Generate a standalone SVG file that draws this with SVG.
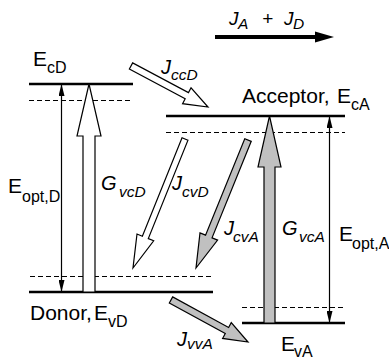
<svg xmlns="http://www.w3.org/2000/svg" width="389" height="364" viewBox="0 0 389 364">
<style>
text{font-family:"Liberation Sans",Arial,sans-serif;fill:#000}
.lab{font-size:21px}
.sub{font-size:16px}
.it{font-style:italic;font-size:20px}
.its{font-style:italic;font-size:15.5px}
.lvl{stroke:#000;stroke-width:2.6;fill:none}
.dash{stroke:#000;stroke-width:1;stroke-dasharray:5,3;fill:none}
.thin{stroke:#000;stroke-width:1.2;fill:none}
.open{fill:#fff;stroke:#000;stroke-width:1.2;stroke-linejoin:miter}
.gray{fill:#c0c0c0;stroke:#000;stroke-width:1.2;stroke-linejoin:miter}
</style>
<defs>
<marker id="ah" viewBox="0 0 12 6" refX="12" refY="3" markerWidth="12" markerHeight="6" markerUnits="userSpaceOnUse" orient="auto-start-reverse">
<path d="M0,0 L12,3 L0,6 Z" fill="#000"/>
</marker>
</defs>
<rect width="389" height="364" fill="#fff"/>

<g id="donor">
<line class="lvl" x1="29" y1="84" x2="133" y2="84"/>
<line class="dash" x1="29" y1="100.5" x2="133" y2="100.5"/>
<line class="dash" x1="30" y1="276.5" x2="213" y2="276.5"/>
<line class="lvl" x1="29" y1="292" x2="213" y2="292"/>
<text class="lab" x="33" y="66">E<tspan class="sub" x="47" dy="7">cD</tspan></text>
<text class="lab" x="30" y="320">Donor,<tspan x="94">E</tspan><tspan class="sub" x="108" dy="7">vD</tspan></text>
<text class="lab" x="8" y="193">E<tspan class="sub" x="22" dy="9">opt,D</tspan></text>
</g>

<g id="acceptor">
<line class="lvl" x1="166" y1="116" x2="345" y2="116"/>
<line class="dash" x1="166" y1="132.5" x2="345" y2="132.5"/>
<line class="dash" x1="242" y1="307.5" x2="345" y2="307.5"/>
<line class="lvl" x1="242" y1="323" x2="345" y2="323"/>
<text class="lab" x="242" y="103">Acceptor,<tspan x="337">E</tspan><tspan class="sub" x="351" dy="7">cA</tspan></text>
<text class="lab" x="281" y="351">E<tspan class="sub" x="294" dy="6">vA</tspan></text>
<text class="lab" x="339" y="241">E<tspan class="sub" x="352" dy="8">opt,A</tspan></text>
</g>

<g id="connectors">
<line class="thin" x1="61.5" y1="84" x2="61.5" y2="292" marker-start="url(#ah)" marker-end="url(#ah)"/>
<line class="thin" x1="329.5" y1="116" x2="329.5" y2="323" marker-start="url(#ah)" marker-end="url(#ah)"/>
<polygon id="GvcD" class="open" points="83,292 83,136 77,136 89,84 101,136 95,136 95,292"/>
<polygon id="GvcA" class="gray" points="264,323 264,167 258,167 269.5,116 281,167 275,167 275,323"/>
<polygon id="JccD" class="open" points="129.36,69.09 132.65,62.91 188.46,92.63 191.04,87.77 208,107 182.58,103.67 185.17,98.81"/>
<polygon id="JcvD" class="open" points="187.97,140.2 182.03,137.8 142.37,236.21 137,234.04 133,268 153.68,240.78 148.31,238.61"/>
<polygon id="JcvA" class="gray" points="251.24,141.32 244.76,138.68 205.56,235.18 200,232.92 196,268 217.6,240.08 212.04,237.82"/>
<polygon id="JvvA" class="gray" points="169.32,303.07 172.68,296.93 228.61,327.44 231.24,322.61 248,342 222.62,338.41 225.25,333.58"/>
<line x1="215" y1="37" x2="318" y2="37" stroke="#000" stroke-width="4"/>
<polygon points="315,31.5 334,37 315,42.5" fill="#000"/>
</g>

<g id="labels">
<text class="it" x="101" y="190">G<tspan class="its" x="119" dy="7">vcD</tspan></text>
<text class="it" x="172" y="190">J<tspan class="its" x="182" dy="7">cvD</tspan></text>
<text class="it" x="224" y="235">J<tspan class="its" x="233" dy="7">cvA</tspan></text>
<text class="it" x="282" y="235">G<tspan class="its" x="299" dy="7">vcA</tspan></text>
<text class="it" x="161" y="74">J<tspan class="its" x="171" dy="6">ccD</tspan></text>
<text class="it" x="177" y="346">J<tspan class="its" x="187" dy="3">vvA</tspan></text>
<text class="it" x="229" y="25" style="font-size:19px">J<tspan class="its" x="238" dy="4">A</tspan><tspan x="262" dy="-4" style="font-size:19px">+</tspan><tspan x="284" style="font-size:19px">J</tspan><tspan class="its" x="293" dy="4">D</tspan></text>
</g>
</svg>
